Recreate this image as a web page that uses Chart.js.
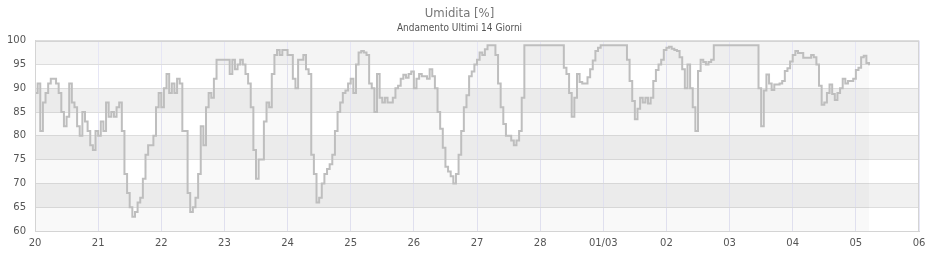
<!DOCTYPE html>
<html>
<head>
<meta charset="utf-8">
<script src="https://cdn.jsdelivr.net/npm/chart.js@4"></script>
<style>
  html, body { margin: 0; padding: 0; background: #fff; }
  #wrap { width: 940px; height: 260px; }
</style>
</head>
<body>
<div id="wrap"><canvas id="umidChart" width="940" height="260"></canvas></div>
<script>
// tick labels, one per day (20 feb -> 06 mar)
const dayLabels = ["20", "21", "22", "23", "24", "25", "26", "27", "28", "01/03", "02", "03", "04", "05", "06"];

// hourly humidity [%], one array per day
const day20 = [89, 91, 81, 87, 89, 91, 92, 92, 91, 89, 85, 82, 84, 91, 87, 86, 82, 80, 85, 83, 81, 78, 77, 81];
const day21 = [80, 83, 81, 87, 84, 85, 84, 86, 87, 81, 72, 68, 65, 63, 64, 66, 67, 71, 76, 78, 78, 80, 86, 89];
const day22 = [86, 90, 93, 89, 91, 89, 92, 91, 81, 81, 68, 64, 65, 67, 72, 82, 78, 86, 89, 88, 92, 96, 96, 96];
const day23 = [96, 96, 93, 96, 94, 95, 96, 95, 93, 91, 86, 77, 71, 75, 75, 83, 87, 86, 93, 97, 98, 97, 98, 98];
const day24 = [97, 97, 92, 90, 96, 96, 97, 94, 93, 76, 72, 66, 67, 70, 72, 73, 74, 76, 81, 85, 87, 89, 89.5, 91];
const day25 = [92, 89, 95, 97.5, 97.8, 97.5, 97, 91, 90, 85, 93, 88, 87, 88, 87, 87, 88, 90, 90.5, 92, 92.8, 92.2, 93, 93.5];
const day26 = [90, 92, 93, 92.5, 92.5, 92, 94, 92.5, 90, 85, 81.5, 77.5, 73.5, 72.5, 71.5, 70, 72, 76, 81, 86, 88.5, 92.5, 93.5, 95];
const day27 = [96, 97.5, 97, 98.2, 99, 99, 99, 97, 91, 86, 82.5, 80, 80, 79, 78, 79, 81, 88, 99, 99, 99, 99, 99, 99];
const day28 = [99, 99, 99, 99, 99, 99, 99, 99, 99, 94.3, 93, 89, 84, 88, 93, 91.3, 91, 91, 92.3, 94, 95.8, 97.8, 98.5, 99];
const day01 = [99, 99, 99, 99, 99, 99, 99, 99, 99, 96, 91.5, 87.3, 83.5, 85.7, 88, 87, 88, 86.8, 88, 91.5, 93.8, 95, 96, 98];
const day02 = [98.5, 98.7, 98.3, 98, 97.8, 96.5, 94, 90, 95, 90, 86, 81, 93.6, 96, 95.5, 95, 95.5, 96, 99, 99, 99, 99, 99, 99];
const day03 = [99, 99, 99, 99, 99, 99, 99, 99, 99, 99, 99, 90, 82, 89.5, 92.9, 91, 89.6, 90.8, 90.8, 91, 91.5, 93.6, 94.2, 95.6];
const day04 = [97, 97.8, 97.4, 97.4, 96.4, 96.4, 96.4, 97, 96.5, 95, 90.5, 86.5, 87, 89, 90.8, 88.8, 87.5, 89, 90, 92, 91, 91.5, 91.5, 92];
const day05 = [93.8, 94.3, 96.5, 96.8, 95.3, 94.8];

const humidity = [].concat(day20, day21, day22, day23, day24, day25, day26, day27, day28, day01, day02, day03, day04, day05);
const points = humidity.map((v, i) => ({ x: i, y: v }));

const FONT = "'DejaVu Sans', sans-serif";
const NARROW = "'Liberation Sans Narrow', 'DejaVu Sans Condensed', sans-serif";

// alternating grey bands behind the plot
const bandsPlugin = {
  id: "bands",
  beforeDraw(chart) {
    const { ctx, chartArea, scales } = chart;
    ctx.save();
    ctx.fillStyle = "#ffffff";
    ctx.fillRect(chartArea.left, chartArea.top, chartArea.right - chartArea.left, chartArea.bottom - chartArea.top);
    for (let v = 60; v < 100; v += 5) {
      if ((v / 5) % 2 === 1) {
        const y1 = scales.y.getPixelForValue(v + 5);
        const y2 = scales.y.getPixelForValue(v);
        ctx.fillStyle = v === 95 ? "#f4f4f4" : "#f1f1f1";
        ctx.fillRect(chartArea.left, y1, chartArea.right - chartArea.left, y2 - y1);
      }
    }
    ctx.restore();
  },
  afterDraw(chart) {
    const { ctx, chartArea } = chart;
    ctx.save();
    ctx.strokeStyle = "#d4d4d4";
    ctx.lineWidth = 1;
    ctx.strokeRect(Math.round(chartArea.left) + 0.5, Math.round(chartArea.top) + 0.5,
      Math.round(chartArea.right - chartArea.left) - 1, Math.round(chartArea.bottom - chartArea.top));
    ctx.restore();
  },
};

new Chart(document.getElementById("umidChart"), {
  type: "line",
  data: {
    datasets: [
      {
        data: points,
        borderColor: "#bebebe",
        borderWidth: 2,
        backgroundColor: "rgba(0,0,0,0.025)",
        fill: "start",
        stepped: true,
        pointRadius: 0,
      },
    ],
  },
  options: {
    responsive: false,
    animation: false,
    layout: { padding: { left: 0, right: 21, top: 0, bottom: 5 } },
    plugins: {
      legend: { display: false },
      tooltip: { enabled: false },
      title: {
        display: true,
        text: "Umidita [%]",
        color: "#777",
        font: { family: NARROW, size: 13, weight: "normal" },
        padding: { top: 6, bottom: 1 },
      },
      subtitle: {
        display: true,
        text: "Andamento Ultimi 14 Giorni",
        color: "#555",
        font: { family: NARROW, size: 10, weight: "normal" },
        padding: { top: 0, bottom: 6 },
      },
    },
    scales: {
      x: {
        type: "linear",
        min: 0,
        max: 336,
        grid: { color: "#e6e6f5", drawTicks: false },
        border: { color: "#d4d4d4" },
        ticks: {
          stepSize: 24,
          autoSkip: false,
          maxRotation: 0,
          padding: 6,
          color: "#555",
          font: { family: FONT, size: 10 },
          callback: (v) => dayLabels[Math.round(v / 24)],
        },
      },
      y: {
        min: 60,
        max: 100,
        grid: { color: "#dddddd", drawTicks: false },
        border: { color: "#d4d4d4" },
        afterFit: (scale) => { scale.width = 35; },
        ticks: {
          stepSize: 5,
          padding: 9,
          color: "#555",
          font: { family: FONT, size: 10 },
        },
      },
    },
  },
  plugins: [bandsPlugin],
});
</script>
</body>
</html>
